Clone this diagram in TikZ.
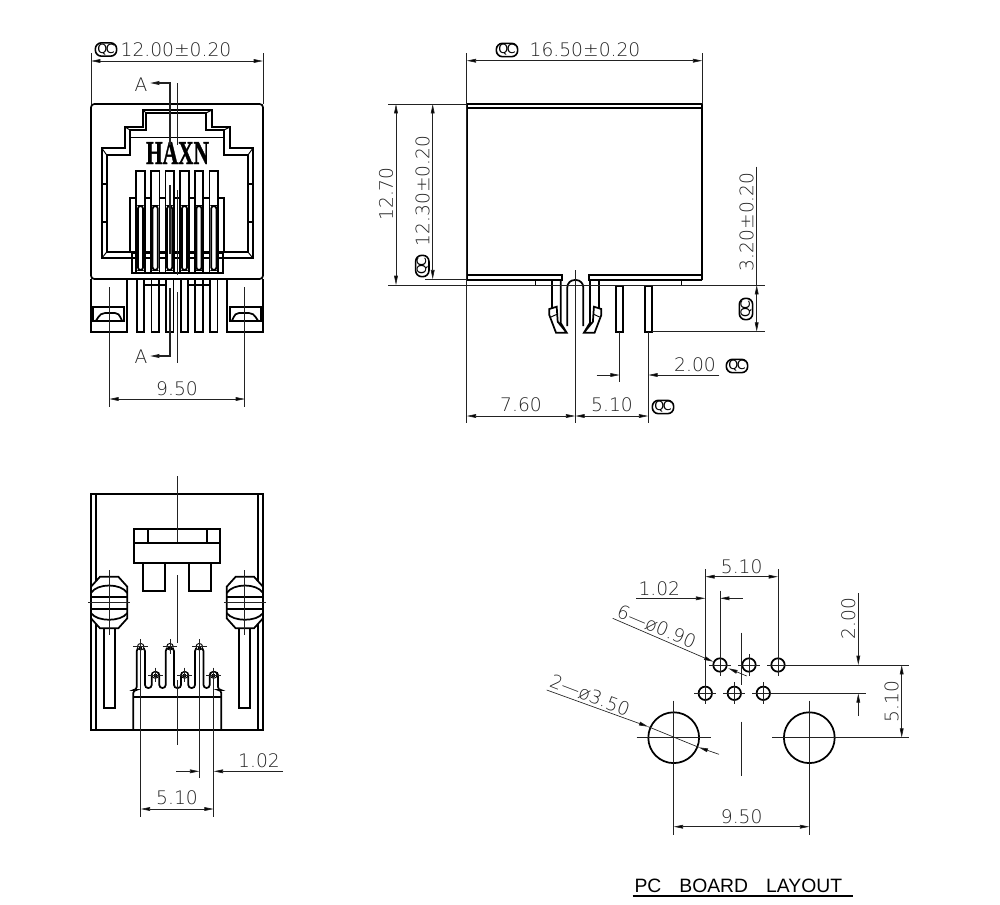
\documentclass[tikz,border=0pt]{standalone}
\usepackage{fontspec}
\setmainfont{DejaVu Sans ExtraLight}
\newfontfamily\haxnfont[BoldFeatures={FakeBold=1.4}]{Liberation Serif}
\newfontfamily\titlefont{Liberation Sans}
\usetikzlibrary{arrows.meta}
\definecolor{dimgray}{HTML}{222222}
\tikzset{
  outline/.style={line width=1.3pt, black, line join=miter},
  thinpart/.style={line width=.7pt, black},
  dimline/.style={line width=.5pt, dimgray, >={Triangle[length=7pt,width=2.8pt,fill=black]}},
  dimtext/.style={font=\fontsize{14}{14}\selectfont, text=dimgray, inner sep=0pt},
  qcmark/.style={draw, line width=1.2pt, rounded corners=4.6pt, minimum width=16pt, minimum height=10pt,
    inner sep=0pt, font=\fontsize{9.5}{9.5}\selectfont\bfseries},
}
\newcommand{\qctext}{Q\kern-1.2ptC}
\begin{document}
\begin{tikzpicture}[x=.75pt, y=-.75pt]
\useasboundingbox (0,0) rectangle (1000,904);

% front view
\draw [outline, rounded corners=2.5pt] (91,279) -- (91,104) -- (263,104) -- (263,279) -- cycle;
\draw [outline] (101.7,258.3) -- (101.7,148) -- (125,148) -- (125,127) -- (143,127) -- (143,110) -- (212,110) -- (212,127) -- (230,127) -- (230,148) -- (253,148) -- (253,258.3) -- cycle;
\draw [outline] (106.7,252) -- (106.7,155) -- (130,155) -- (130,130) -- (146,130) -- (146,113) -- (206,113) -- (206,130) -- (224,130) -- (224,155) -- (248,155) -- (248,252) -- cycle;
\foreach \xa/\ya/\xb/\yb in {101.7/258.3/106.7/252, 101.7/148/106.7/155, 125/127/130/130, 143/110/146/113, 212/110/206/113, 230/127/224/130, 253/148/248/155, 253/258.3/248/252}
{
  \draw [thinpart] (\xa,\ya) -- (\xb,\yb);
}
\draw [thinpart] (130,137.3) -- (224,137.3);
\foreach \x in {101.7,248}
{
  \draw [outline] (\x,184) -- ++(5,0);
  \draw [outline] (\x,221.7) -- ++(5,0);
}
\draw [outline] (130,253) -- (130,197.7) -- (224.3,197.7) -- (224.3,253);
\draw [outline] (131.7,253) rectangle (222.7,272.7);
\draw [thinpart] (131.7,257) -- (222.7,257);

\foreach \x in {140.5,155.2,169.6,184.5,199,213.8}
{
  \draw [outline, fill=white] (\x-4.2,272.7) -- (\x-4.2,170.7) -- (\x+4.2,170.7) -- (\x+4.2,272.7);
  \draw [outline, rounded corners=2pt] (\x-2.6,270) -- (\x-2.6,206) -- (\x+2.6,206) -- (\x+2.6,270) -- cycle;
  \draw [thinpart] (\x-4.2,272.7) -- (\x+4.2,272.7);
  \draw [outline] (\x-3.8,279) rectangle (\x+3.8,331.7);
}
\draw [outline] (144,285) -- (166,285);
\draw [outline] (188,285) -- (210,285);

\node (logo) [font=\haxnfont\bfseries\fontsize{25}{25}\selectfont, xscale=.64, transform shape, inner sep=0pt] at (177.5,153) {HAXN};

\foreach \sx/\dx in {1/0pt, -1/-265.5pt}
{
  \begin{scope}[xscale=\sx, xshift=\dx]
    \draw [outline] (91,279) -- (91,331.7) -- (126.7,331.7) -- (126.7,279);
    \draw [outline, fill=white] (93.3,307.3) rectangle (124.3,320.7);
    \draw [outline] (96,320.7) .. controls (100,314) and (102,313) .. (105,313) -- (115,313) .. controls (118,313) and (119,314) .. (122,320.7);
    \draw [dimline] (109.3,287) -- (109.3,407);
  \end{scope}
}

\draw [dimline] (91,53) -- (91,104);
\draw [dimline] (263,53) -- (263,104);
\draw [dimline, <->] (91,61) -- (263,61);
\node (qcwidth) [qcmark] at (106,49.5) {\qctext};
\node (frontwidth) [dimtext] at (176,49.5) {12.00±0.20};
\node (secttop) [dimtext] at (141,85) {A};
\node (sectbottom) [dimtext] at (141,357) {A};
\draw [dimline] (177,83) -- (177,145);
\draw [dimline] (177,190) -- (177,275);
\draw [dimline] (177,292) -- (177,363);
\draw [dimline, line width=.8pt, ->] (170,145) -- (170,83) -- (150,83);
\draw [dimline, line width=.8pt] (170,185) -- (170,254);
\draw [dimline, line width=.8pt, ->] (170,288) -- (170,356) -- (150,356);
\draw [dimline, <->] (109.3,399) -- (245,399);
\node (frontpitch) [dimtext] at (177,389) {9.50};

% side view
\draw [outline] (466.7,280) -- (466.7,104) -- (702.3,104) -- (702.3,280);
\draw [outline] (466.7,108.3) -- (702.3,108.3);
\draw [outline] (466.7,280) -- (561.7,280) -- (561.7,275) -- (466.7,275);
\draw [outline] (702.3,280) -- (589,280) -- (589,275) -- (702.3,275);
\draw [thinpart] (535,280) rectangle (551.7,285.7);
\draw [thinpart] (599,280) rectangle (681.7,285.7);

\foreach \sx/\dx in {1/0pt, -1/-862.95pt}
{
  \begin{scope}[xscale=\sx, xshift=\dx]
    \draw [outline] (551.7,280) -- (551.7,308);
    \draw [outline] (560.7,280) -- (560.7,323) -- (566.7,332.7) -- (556,332.7) -- (549.3,315) -- (549.3,309) -- (556.7,306.7) -- (557.7,321.7) -- (566.7,332.7);
    \draw [thinpart] (551,317) -- (557.5,314);
  \end{scope}
}
\draw [outline, rounded corners=5.5pt] (567.3,326) -- (567.3,280) -- (583.3,280) -- (583.3,326);
\draw [outline] (616,285.7) rectangle (623.3,331.7);
\draw [outline] (645,285.7) rectangle (652.3,331.7);

\draw [dimline] (466.7,53) -- (466.7,423);
\draw [dimline] (702.3,53) -- (702.3,104);
\draw [dimline, <->] (466.7,60.7) -- (702.3,60.7);
\node (qclength) [qcmark] at (507,50) {\qctext};
\node (sidelength) [dimtext] at (585,50) {16.50±0.20};
\draw [dimline] (388,104) -- (466.7,104);
\draw [dimline] (388,285) -- (765,285);
\draw [dimline] (425,279.3) -- (466.7,279.3);
\draw [dimline, <->] (396,104) -- (396,285);
\draw [dimline, <->] (432.7,104) -- (432.7,279.3);
\node (sideheight) [dimtext, rotate=90] at (386,194) {12.70};
\node (bodyheight) [dimtext, rotate=90] at (422.7,191) {12.30±0.20};
\node (qcheight) [qcmark, rotate=90] at (422.3,266) {\qctext};

\draw [dimline] (652.3,331.7) -- (765,331.7);
\draw [dimline] (756.7,166.7) -- (756.7,285);
\draw [dimline, <->] (756.7,285) -- (756.7,331.7);
\node (pinlength) [dimtext, rotate=90] at (746.7,221.7) {3.20±0.20};
\node (qcpin) [qcmark, rotate=90] at (746,309) {\qctext};

\draw [dimline] (619.7,331.7) -- (619.7,382);
\draw [dimline] (648.3,331.7) -- (648.3,423);
\draw [dimline] (575.3,270) -- (575.3,423);
\draw [dimline, ->] (596.7,375) -- (619.7,375);
\draw [dimline, ->] (719.3,375) -- (648.3,375);
\node (pinpitch) [dimtext] at (695,365) {2.00};
\node (qcpitch) [qcmark] at (737,366) {\qctext};
\draw [dimline, <->] (466.7,416) -- (575.3,416);
\draw [dimline, <->] (575.3,416) -- (648.3,416);
\node (edgeoffset) [dimtext] at (521,405) {7.60};
\node (rowoffset) [dimtext] at (612,405) {5.10};
\node (qcoffset) [qcmark] at (663,407) {\qctext};

% bottom view
\draw [outline] (91,494) rectangle (263.3,730);
\draw [outline] (95.7,494) -- (95.7,730);
\draw [outline] (258.3,494) -- (258.3,730);
\draw [outline] (134,529.3) rectangle (220,562.7);
\draw [outline] (134,543.3) -- (220,543.3);
\draw [outline] (147.7,529.3) -- (147.7,543.3);
\draw [outline] (206.7,529.3) -- (206.7,543.3);
\draw [outline] (143.3,562.7) -- (143.3,591) -- (165,591) -- (165,562.7);
\draw [outline] (189.3,562.7) -- (189.3,591) -- (211,591) -- (211,562.7);

\foreach \sx/\dx in {1/0pt, -1/-265.5pt}
{
  \begin{scope}[xscale=\sx, xshift=\dx]
    \draw [outline, fill=white] (100,576.7) -- (118.3,576.7) -- (127.3,586.7) -- (127.3,618.3) -- (118.3,628.3) -- (100,628.3) -- (91,618.3) -- (91,586.7) -- cycle;
    \draw [outline] (91,593) .. controls (97,583) and (121,583) .. (127.3,593);
    \draw [outline] (91,613) .. controls (97,622) and (121,622) .. (127.3,613);
    \draw [outline] (91,596.7) -- (127.3,596.7);
    \draw [outline] (91,609.3) -- (127.3,609.3);
    \draw [outline] (104,628.3) -- (104,708.3) -- (115,708.3) -- (115,628.3);
    \draw [dimline] (88,602.7) -- (130,602.7);
    \draw [dimline] (109.3,570) -- (109.3,635);
  \end{scope}
}

\draw [outline, rounded corners=2.3pt] (133.3,730) -- (133.3,690) -- (136.7,690) -- (136.7,648) -- (145,648) -- (145,688) -- (151.7,688) -- (151.7,672) -- (159.3,672) -- (159.3,688) -- (165.7,688) -- (165.7,648) -- (174,648) -- (174,688) -- (181,688) -- (181,672) -- (188.3,672) -- (188.3,688) -- (195,688) -- (195,648) -- (203.5,648) -- (203.5,688) -- (209.7,688) -- (209.7,672) -- (218,672) -- (218,690) -- (221.3,690) -- (221.3,730);
\draw [outline] (133.3,697.3) -- (221.3,697.3);
\foreach \x/\y in {140.7/646.7, 170/646.7, 199.3/646.7, 155.3/675, 184.7/675, 213.7/675}
{
  \draw [thinpart, fill=white] (\x,\y) circle [radius=3.3];
  \fill [black] (\x-1.6,\y-1.2) rectangle (\x+1.6,\y+2);
  \draw [dimline] (\x-7.3,\y) -- (\x+7.3,\y);
  \draw [dimline] (\x,\y-7.3) -- (\x,\y+7.3);
}

\draw [dimline] (177,476) -- (177,541.7);
\draw [dimline] (177,575) -- (177,643);
\draw [dimline] (177,680) -- (177,745);
\draw [dimline] (140.7,654) -- (140.7,816.7);
\draw [dimline] (213.7,682) -- (213.7,816.7);
\draw [dimline] (199.3,654) -- (199.3,778);
\draw [dimline, <->] (140.7,809) -- (213.7,809);
\node (basepitch) [dimtext] at (177,798) {5.10};
\draw [dimline, ->] (176,771.3) -- (199.3,771.3);
\draw [dimline, ->] (283,771.3) -- (213.7,771.3);
\node (basestep) [dimtext] at (259,761) {1.02};

% board layout
\foreach \x/\y in {720/665, 749/665, 778/665, 705.3/693.3, 734.3/693.3, 763.3/693.3}
{
  \draw [outline] (\x,\y) circle [radius=6.7];
  \draw [dimline] (\x-11,\y) -- (\x+11,\y);
  \draw [dimline] (\x,\y-11) -- (\x,\y+11);
}
\draw [outline] (673.7,737.7) circle [radius=25.4];
\draw [outline] (809.3,737.7) circle [radius=25.4];
\draw [dimline] (636.7,737.7) -- (710.7,737.7);
\draw [dimline] (772.3,737.7) -- (909.3,737.7);
\draw [dimline] (673.7,700.7) -- (673.7,835);
\draw [dimline] (809.3,700.7) -- (809.3,835);
\draw [dimline] (741.3,632.7) -- (741.3,685);
\draw [dimline] (741.3,721.7) -- (741.3,775.7);

\draw [dimline] (705.3,569.3) -- (705.3,682);
\draw [dimline] (778,569.3) -- (778,654);
\draw [dimline] (720,590.7) -- (720,654);
\draw [dimline, <->] (705.3,576.7) -- (778,576.7);
\node (holespan) [dimtext] at (741.7,566.7) {5.10};
\draw [dimline, ->] (636,598.3) -- (705.3,598.3);
\draw [dimline, ->] (742.7,598.3) -- (720,598.3);
\node (holestep) [dimtext] at (659.3,588.3) {1.02};
\draw [dimline, ->] (612.7,618.3) -- (713.3,661.7);
\draw [dimline, ->] (746.7,676) -- (728.3,668.3);
\node (smallhole) [dimtext, rotate=-23] at (656.7,626.7) {6—ø0.90};
\draw [dimline, ->] (546.7,690) -- (648.3,726.7);
\draw [dimline, ->] (719,754.3) -- (698.7,747.3);
\draw [dimline] (648.3,726.7) -- (698.7,747.3);
\node (bighole) [dimtext, rotate=-21] at (590,695.5) {2—ø3.50};

\draw [dimline, ->] (858.3,593.3) -- (858.3,665);
\draw [dimline, ->] (858.3,716) -- (858.3,693.3);
\draw [dimline] (785,665) -- (909.3,665);
\draw [dimline] (770.7,693.3) -- (866,693.3);
\node (rowgap) [dimtext, rotate=90] at (848.3,618.3) {2.00};
\draw [dimline, <->] (901.7,665) -- (901.7,737.7);
\node (rowdrop) [dimtext, rotate=90] at (891.7,701.7) {5.10};
\draw [dimline, <->] (673.7,826.7) -- (809.3,826.7);
\node (boardpitch) [dimtext] at (741.7,816.7) {9.50};

\node (boardtitle) [font=\titlefont\fontsize{14.5}{14.5}\selectfont, inner sep=0pt] at (738.3,885.7) {PC\hspace{13.5pt}BOARD\hspace{13.5pt}LAYOUT};
\draw [line width=.9pt] (632.7,896) -- (853.3,896);
\end{tikzpicture}
\end{document}
